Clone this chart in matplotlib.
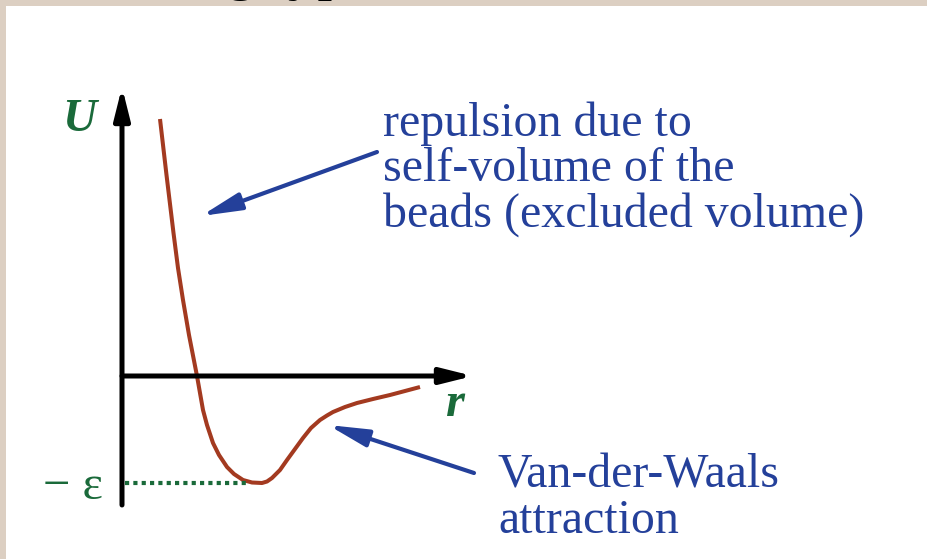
import matplotlib.pyplot as plt
from matplotlib.patches import Rectangle

# potential curve U(r), read in plot units (origin at the axis crossing)
r_vals = [0.38, 0.445, 0.515, 0.56, 0.61, 0.67, 0.75, 0.81, 0.85, 0.91, 0.97,
          1.05, 1.12, 1.21, 1.30, 1.40, 1.45, 1.50, 1.58, 1.65, 1.73, 1.81, 1.89,
          1.98, 2.05, 2.11, 2.23, 2.35, 2.51, 2.68, 2.83, 2.98]
u_vals = [2.57, 2.01, 1.43, 1.08, 0.76, 0.41, 0.00, -0.34, -0.49, -0.67, -0.79,
          -0.91, -0.98, -1.04, -1.065, -1.07, -1.055, -1.02, -0.94, -0.84, -0.73,
          -0.62, -0.52, -0.44, -0.395, -0.36, -0.31, -0.27, -0.23, -0.19, -0.15, -0.11]

eps_level = -1.07
eps_r = [0.03, 1.28]

repulsion_text = "repulsion due to\nself-volume of the\nbeads (excluded volume)"
attraction_text = "Van-der-Waals\nattraction"

BLUE = '#24409a'
GREEN = '#1a6a3a'
RED = '#a33a20'
BEIGE = '#dccfc2'
SERIF = ['Liberation Serif', 'DejaVu Serif']

fig = plt.figure(figsize=(9.28, 5.59), dpi=100)
fig.patch.set_facecolor(BEIGE)
fig.patches.append(Rectangle((6 / 928, 0), 1, 1 - 6 / 559, transform=fig.transFigure,
                             facecolor='white', edgecolor='none', zorder=-5))

ax = fig.add_axes([0, 0, 1, 1])
ax.set_xlim(-1.22, 8.06)
ax.set_ylim(-1.83, 3.76)
ax.axis('off')
ax.patch.set_alpha(0)

# cut-off slide title above the frame
ax.text(1.04, 3.883, "g type", fontsize=43, family=SERIF, color='black',
        ha='left', va='baseline')

# axes with arrow heads
axis_arrow = dict(arrowstyle='-|>,head_length=1.0,head_width=0.25', color='black',
                  lw=3.6, mutation_scale=19, shrinkA=0, shrinkB=0)
ax.annotate('', xy=(0, 2.89), xytext=(0, -1.29), arrowprops=axis_arrow)
ax.annotate('', xy=(3.51, 0), xytext=(0.0, 0), arrowprops=axis_arrow)

ax.plot(r_vals, u_vals, color=RED, lw=2.9, solid_capstyle='butt',
        solid_joinstyle='round')
ax.plot(eps_r, [eps_level, eps_level], color=GREEN, lw=3, ls=(0, (1, 1)))

ax.text(-0.43, 2.56, 'U', fontsize=34, family=SERIF, color=GREEN,
        weight='bold', style='italic', ha='center', va='center')
ax.text(3.33, -0.28, 'r', fontsize=35, family=SERIF, color=GREEN,
        weight='bold', style='italic', ha='center', va='center')
ax.text(-0.195, eps_level - 0.04, '− ε', fontsize=35, family=SERIF, color=GREEN,
        ha='right', va='center')

# annotations
note_arrow = dict(arrowstyle='-|>,head_length=1.2,head_width=0.26', color=BLUE,
                  lw=3, mutation_scale=20, shrinkA=0, shrinkB=0)
ax.annotate('', xy=(0.79, 1.60), xytext=(2.55, 2.24), arrowprops=note_arrow)
ax.annotate('', xy=(2.06, -0.49), xytext=(3.52, -0.97), arrowprops=note_arrow)

ax.text(2.61, 1.49, repulsion_text, fontsize=34.5, family=SERIF, color=BLUE,
        ha='left', va='baseline', linespacing=1.04)
ax.text(3.76, -1.57, attraction_text, fontsize=34.5, family=SERIF, color=BLUE,
        ha='left', va='baseline', linespacing=1.04)

fig.savefig('out.png', dpi=100, facecolor=fig.get_facecolor())
